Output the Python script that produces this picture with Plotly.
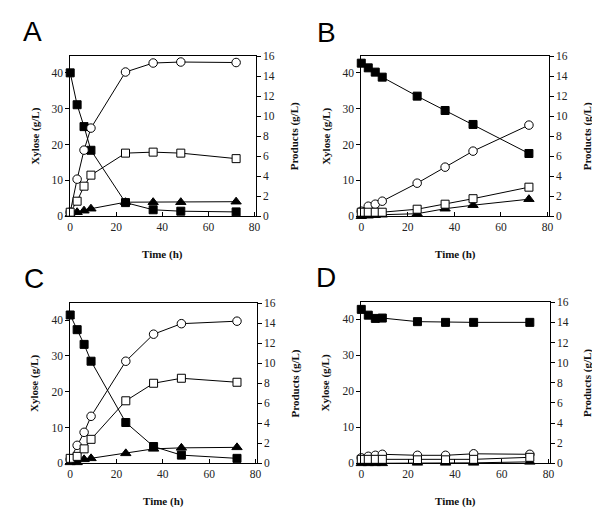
import plotly.graph_objects as go

time_h = [0, 3, 6, 9, 24, 36, 48, 72]

xylose_A = [40.0, 31.1, 25.0, 18.4, 3.8, 1.8, 1.4, 1.2]
circle_A = [0.4, 3.7, 6.6, 8.8, 14.4, 15.3, 15.4, 15.35]
square_A = [0.4, 1.5, 3.0, 4.1, 6.3, 6.4, 6.3, 5.75]
triangle_A = [0.2, 0.4, 0.55, 0.75, 1.4, 1.4, 1.4, 1.45]

xylose_B = [42.7, 41.4, 40.2, 38.8, 33.5, 29.5, 25.6, 17.5]
circle_B = [0.5, 1.0, 1.2, 1.5, 3.3, 4.9, 6.5, 9.1]
square_B = [0.4, 0.4, 0.4, 0.4, 0.7, 1.2, 1.75, 2.9]
triangle_B = [0.0, 0.05, 0.1, 0.15, 0.25, 0.75, 1.1, 1.7]

xylose_C = [41.4, 37.3, 33.2, 28.5, 11.4, 4.7, 2.3, 1.4]
circle_C = [0.4, 1.8, 3.1, 4.7, 10.2, 12.9, 13.95, 14.2]
square_C = [0.5, 0.7, 1.45, 2.4, 6.25, 8.0, 8.5, 8.1]
triangle_C = [0.1, 0.1, 0.4, 0.5, 1.0, 1.45, 1.55, 1.6]

xylose_D = [42.7, 41.1, 40.2, 40.3, 39.3, 39.1, 39.1, 39.1]
circle_D = [0.55, 0.7, 0.8, 0.9, 0.8, 0.8, 0.95, 0.9]
square_D = [0.4, 0.4, 0.4, 0.4, 0.35, 0.35, 0.4, 0.6]
triangle_D = [0.0, 0.0, 0.0, 0.0, 0.05, 0.05, 0.05, 0.15]

panel_letters = ["A", "B", "C", "D"]
x_ticks = [0, 20, 40, 60, 80]
left_ticks = [0, 10, 20, 30, 40]
right_ticks = [0, 2, 4, 6, 8, 10, 12, 14, 16]

panels = [
    (xylose_A, circle_A, square_A, triangle_A),
    (xylose_B, circle_B, square_B, triangle_B),
    (xylose_C, circle_C, square_C, triangle_C),
    (xylose_D, circle_D, square_D, triangle_D),
]

W, H = 600, 519
# plot frames in pixels: (left, right, top, bottom)
frames = [(60, 248, 43, 207), (355, 545, 43, 207), (60, 249, 296, 460), (355, 546, 295, 460)]
letter_pos = [(22, 18), (320, 19), (23, 271), (319, 270)]

fig = go.Figure()
serif = "Liberation Serif, Times New Roman, serif"
tick_font = dict(family=serif, size=11.5, color="#222")
title_font = dict(family=serif, size=11, color="#111")

layout = {}
annotations = []
for i, (xy, ci, sq, tr) in enumerate(panels):
    n = i + 1
    xa = f"x{n}" if n > 1 else "x"
    yl_idx = 2 * i + 1
    yr_idx = 2 * i + 2
    yl = f"y{yl_idx}" if yl_idx > 1 else "y"
    yr = f"y{yr_idx}"
    l, r, t, b = frames[i]
    dx = [l / W, r / W]
    dy = [1 - b / H, 1 - t / H]

    common_line = dict(color="black", width=1)
    fig.add_trace(go.Scatter(x=time_h, y=xy, xaxis=xa, yaxis=yl, mode="lines+markers",
                             line=common_line, cliponaxis=False,
                             marker=dict(symbol="square", size=8, color="black",
                                         line=dict(color="black", width=1)),
                             showlegend=False))
    fig.add_trace(go.Scatter(x=time_h, y=tr, xaxis=xa, yaxis=yr, mode="lines+markers",
                             line=common_line, cliponaxis=False,
                             marker=dict(symbol="triangle-up", size=9, color="black",
                                         line=dict(color="black", width=1)),
                             showlegend=False))
    fig.add_trace(go.Scatter(x=time_h, y=ci, xaxis=xa, yaxis=yr, mode="lines+markers",
                             line=common_line, cliponaxis=False,
                             marker=dict(symbol="circle", size=8.5, color="white",
                                         line=dict(color="black", width=1)),
                             showlegend=False))
    fig.add_trace(go.Scatter(x=time_h, y=sq, xaxis=xa, yaxis=yr, mode="lines+markers",
                             line=common_line, cliponaxis=False,
                             marker=dict(symbol="square", size=8, color="white",
                                         line=dict(color="black", width=1)),
                             showlegend=False))

    xkey = "xaxis" if n == 1 else f"xaxis{n}"
    layout[xkey] = dict(domain=dx, anchor=yl, range=[0, 80.5], tickvals=x_ticks,
                        ticks="inside", ticklen=4, tickcolor="black",
                        showline=True, linecolor="black", linewidth=1, mirror=True,
                        showgrid=False, zeroline=False, tickfont=tick_font)
    ylkey = "yaxis" if yl_idx == 1 else f"yaxis{yl_idx}"
    layout[ylkey] = dict(domain=dy, anchor=xa, range=[0, 44.7], tickvals=left_ticks,
                         ticks="outside", ticklen=4, tickcolor="black",
                         showline=True, linecolor="black", linewidth=1,
                         showgrid=False, zeroline=False, tickfont=tick_font)
    layout[f"yaxis{yr_idx}"] = dict(domain=dy, anchor=xa, overlaying=yl, side="right",
                                    range=[0, 16], tickvals=right_ticks,
                                    ticks="outside", ticklen=4, tickcolor="black",
                                    showline=True, linecolor="black", linewidth=1,
                                    showgrid=False, zeroline=False, tickfont=tick_font)

    annotations.append(dict(text="<b>Xylose (g/L)</b>", x=(l - 36) / W, y=1 - ((t + b) / 2) / H,
                            xref="paper", yref="paper", showarrow=False, textangle=-90,
                            font=title_font, xanchor="center", yanchor="middle"))
    annotations.append(dict(text="<b>Products (g/L)</b>", x=(r + 39) / W, y=1 - ((t + b) / 2) / H,
                            xref="paper", yref="paper", showarrow=False, textangle=-90,
                            font=title_font, xanchor="center", yanchor="middle"))
    annotations.append(dict(text="<b>Time (h)</b>", x=((l + r) / 2) / W, y=1 - (b + 39) / H,
                            xref="paper", yref="paper", showarrow=False,
                            font=title_font, xanchor="center", yanchor="middle"))
    lx, ly = letter_pos[i]
    annotations.append(dict(text=panel_letters[i], x=lx / W, y=1 - ly / H,
                            xref="paper", yref="paper", showarrow=False,
                            font=dict(family="Liberation Sans, Arial, sans-serif", size=28, color="black"),
                            xanchor="center", yanchor="middle"))

fig.update_layout(width=W, height=H, margin=dict(l=0, r=0, t=0, b=0),
                  paper_bgcolor="white", plot_bgcolor="white",
                  font=dict(family=serif, size=11, color="#222"),
                  annotations=annotations, **layout)

fig.write_html("out.html")
